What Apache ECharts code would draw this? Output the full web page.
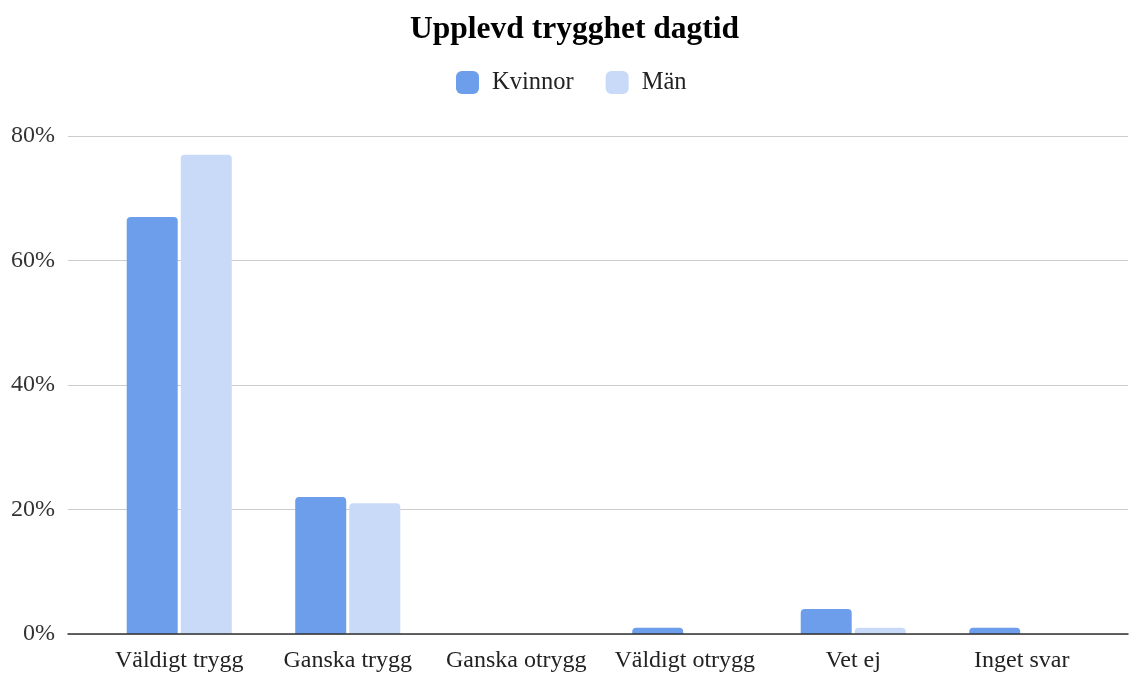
<!DOCTYPE html>
<html><head><meta charset="utf-8">
<script src="https://cdn.jsdelivr.net/npm/echarts@6/dist/echarts.min.js"></script>
<style>html,body{margin:0;padding:0;background:#fff}#c{width:1131px;height:673px}</style>
</head><body><div id="c"></div>
<script>
const categories = ['Väldigt trygg','Ganska trygg','Ganska otrygg','Väldigt otrygg','Vet ej','Inget svar'];
const kvinnor = [67, 22, 0, 1, 4, 1];
const man = [77, 21, 0, 0, 1, 0];
const yTicks = [0, 20, 40, 60, 80];
const seriesNames = ['Kvinnor', 'Män'];

const FONT = '"Liberation Serif", "Times New Roman", serif';
const chart = echarts.init(document.getElementById('c'), null, {renderer: 'canvas'});
chart.setOption({
  animation: false,
  title: {
    text: 'Upplevd trygghet dagtid', left: 405, top: 9,
    textStyle: {fontFamily: FONT, fontWeight: 'bold', fontSize: 31.5, color: '#000'}
  },
  legend: {
    data: seriesNames, top: 65, left: 451, itemWidth: 23, itemHeight: 23, itemGap: 32,
    icon: 'roundRect',
    textStyle: {fontFamily: FONT, fontSize: 24.5, color: '#222', padding: [0, 0, 0, 8]}
  },
  grid: [
    {left: 95, right: 25, top: 136, bottom: 39, containLabel: false},
    {left: 68, right: 3, top: 136, bottom: 39, containLabel: false}
  ],
  xAxis: [
    {type: 'category', data: categories, gridIndex: 0,
     axisLine: {show: false}, axisTick: {show: false},
     axisLabel: {fontFamily: FONT, fontSize: 24, color: '#222', margin: 15, interval: 0}},
    {type: 'category', data: [''], gridIndex: 1, z: 5,
     axisLine: {show: true, lineStyle: {color: '#333', width: 1.5}}, axisTick: {show: false},
     axisLabel: {show: false}}
  ],
  yAxis: [
    {type: 'value', gridIndex: 0, min: 0, max: 80, interval: 20, show: false,
     splitLine: {show: false}},
    {type: 'value', gridIndex: 1, min: 0, max: 80, interval: 20,
     axisLine: {show: false}, axisTick: {show: false},
     splitLine: {lineStyle: {color: '#ccc', width: 1}},
     axisLabel: {fontFamily: FONT, fontSize: 24, color: '#333', margin: 13,
       customValues: yTicks, formatter: v => v + '%'}}
  ],
  series: [
    {name: seriesNames[0], type: 'bar', xAxisIndex: 0, yAxisIndex: 0, data: kvinnor,
     barWidth: 51, barGap: '6%', itemStyle: {color: '#6d9eeb', borderRadius: [4,4,0,0]}},
    {name: seriesNames[1], type: 'bar', xAxisIndex: 0, yAxisIndex: 0, data: man,
     barWidth: 51, barGap: '6%', itemStyle: {color: '#c9daf8', borderRadius: [4,4,0,0]}}
  ]
});
</script></body></html>
